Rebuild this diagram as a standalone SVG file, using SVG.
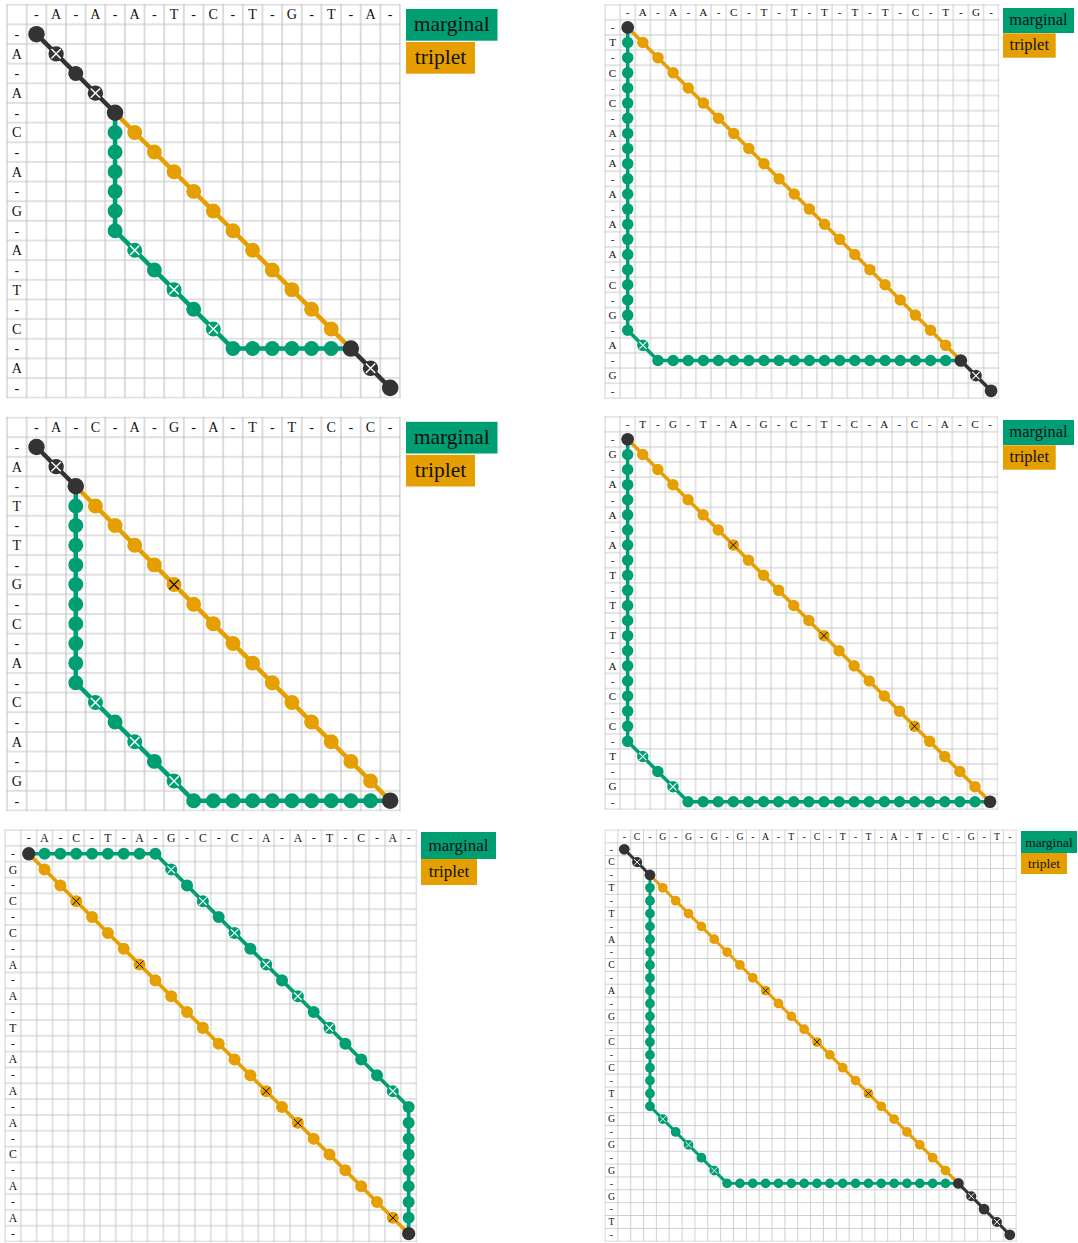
<svg xmlns="http://www.w3.org/2000/svg" xmlns:xlink="http://www.w3.org/1999/xlink" width="1078" height="1243" viewBox="0 0 1078 1243">
<style>
.lbl{font-family:"Liberation Serif","DejaVu Serif",serif;fill:#111;text-anchor:middle}
.leg{font-family:"Liberation Serif","DejaVu Serif",serif;fill:#111;text-anchor:middle}
.cn{fill:none;stroke-width:2.3;stroke-linecap:round;stroke-linejoin:round}
.cg{stroke:#009E73}.co{stroke:#E69F00}.ck{stroke:#333}
.lg{fill:#009E73}.lo{fill:#E69F00}
</style>
<defs>
<pattern id="grid" patternUnits="userSpaceOnUse" x="-5" y="-5" width="10" height="10"><path d="M0 5H10M5 0V10" stroke="#c4c4c4" stroke-width="0.6" fill="none"/></pattern>
<g id="dk"><circle r="4.2" fill="#333"/></g>
<g id="dks"><circle r="3.8" fill="#333"/></g>
<g id="dkx"><circle r="3.9" fill="#333"/><path d="M-2.4-2.4L2.4 2.4M-2.4 2.4L2.4-2.4" stroke="#fff" stroke-width="0.7"/></g>
<g id="dg"><circle r="3.8" fill="#009E73"/></g>
<g id="dgx"><circle r="3.8" fill="#009E73"/><path d="M-2.4-2.4L2.4 2.4M-2.4 2.4L2.4-2.4" stroke="#fff" stroke-width="0.7"/></g>
<g id="do"><circle r="3.8" fill="#E69F00"/></g>
<g id="dox"><circle r="3.8" fill="#E69F00"/><path d="M-2.4-2.4L2.4 2.4M-2.4 2.4L2.4-2.4" stroke="#000" stroke-width="0.6"/></g>
</defs>
<rect width="1078" height="1243" fill="#fff"/>

<!-- Panel 1 -->
<g id="panel1" transform="translate(7,4.7) scale(1.965)">
<rect x="-0.4" y="-0.4" width="200.8" height="200.8" fill="url(#grid)"/>
<text class="lbl" font-size="7.2" x="15 25 35 45 55 65 75 85 95 105 115 125 135 145 155 165 175 185 195 205 215 225 235 245 255 265 275 285 295 305 315" y="7.5">-A-A-A-T-C-T-G-T-A-</text>
<text class="lbl" font-size="7.2" x="5 5 5 5 5 5 5 5 5 5 5 5 5 5 5 5 5 5 5 5 5 5 5 5 5 5 5 5 5 5 5" y="17.5 27.5 37.5 47.5 57.5 67.5 77.5 87.5 97.5 107.5 117.5 127.5 137.5 147.5 157.5 167.5 177.5 187.5 197.5 207.5 217.5 227.5 237.5 247.5 257.5 267.5 277.5 287.5 297.5 307.5 317.5">-A-A-C-A-G-A-T-C-A-</text>
<g id="p1-connectors">
<polyline class="cn ck" points="15,15 55,55"/>
<polyline class="cn cg" points="55,55 55,115 115,175 175,175"/>
<polyline class="cn co" points="55,55 175,175"/>
<polyline class="cn ck" points="175,175 195,195"/>
</g>
<g id="a6"><use href="#dg" x="55" y="65"/></g>
<g id="a7"><use href="#dg" x="55" y="75"/></g>
<g id="a8"><use href="#dg" x="55" y="85"/></g>
<g id="a9"><use href="#dg" x="55" y="95"/></g>
<g id="a10"><use href="#dg" x="55" y="105"/></g>
<g id="a11"><use href="#dg" x="55" y="115"/></g>
<g id="a12"><use href="#dgx" x="65" y="125"/></g>
<g id="a13"><use href="#dg" x="75" y="135"/></g>
<g id="a14"><use href="#dgx" x="85" y="145"/></g>
<g id="a15"><use href="#dg" x="95" y="155"/></g>
<g id="a16"><use href="#dgx" x="105" y="165"/></g>
<g id="a17"><use href="#dg" x="115" y="175"/></g>
<g id="a18"><use href="#dg" x="125" y="175"/></g>
<g id="a19"><use href="#dg" x="135" y="175"/></g>
<g id="a20"><use href="#dg" x="145" y="175"/></g>
<g id="a21"><use href="#dg" x="155" y="175"/></g>
<g id="a22"><use href="#dg" x="165" y="175"/></g>
<g id="a23"><use href="#do" x="65" y="65"/></g>
<g id="a24"><use href="#do" x="75" y="75"/></g>
<g id="a25"><use href="#do" x="85" y="85"/></g>
<g id="a26"><use href="#do" x="95" y="95"/></g>
<g id="a27"><use href="#do" x="105" y="105"/></g>
<g id="a28"><use href="#do" x="115" y="115"/></g>
<g id="a29"><use href="#do" x="125" y="125"/></g>
<g id="a30"><use href="#do" x="135" y="135"/></g>
<g id="a31"><use href="#do" x="145" y="145"/></g>
<g id="a32"><use href="#do" x="155" y="155"/></g>
<g id="a33"><use href="#do" x="165" y="165"/></g>
<g id="a1"><use href="#dk" x="15" y="15"/></g>
<g id="a2"><use href="#dkx" x="25" y="25"/></g>
<g id="a3"><use href="#dks" x="35" y="35"/></g>
<g id="a4"><use href="#dkx" x="45" y="45"/></g>
<g id="a5"><use href="#dk" x="55" y="55"/></g>
<g id="a34"><use href="#dk" x="175" y="175"/></g>
<g id="a35"><use href="#dkx" x="185" y="185"/></g>
<g id="a36"><use href="#dk" x="195" y="195"/></g>
</g>
<g id="legend1">
<rect class="lg" x="406" y="9" width="91.5" height="31.7"/>
<text class="leg" x="451.7" y="31" font-size="21.5">marginal</text>
<rect class="lo" x="406" y="42" width="69" height="31.7"/>
<text class="leg" x="440.5" y="64" font-size="21.5">triplet</text>
</g>

<!-- Panel 2 -->
<g id="panel2" transform="translate(605,4.7) scale(1.514)">
<rect x="-0.4" y="-0.4" width="260.8" height="260.8" fill="url(#grid)"/>
<text class="lbl" font-size="7.4" x="15 25 35 45 55 65 75 85 95 105 115 125 135 145 155 165 175 185 195 205 215 225 235 245 255 265 275 285 295 305 315" y="7.5">-A-A-A-C-T-T-T-T-T-C-T-G-</text>
<text class="lbl" font-size="7.4" x="5 5 5 5 5 5 5 5 5 5 5 5 5 5 5 5 5 5 5 5 5 5 5 5 5 5 5 5 5 5 5" y="17.5 27.5 37.5 47.5 57.5 67.5 77.5 87.5 97.5 107.5 117.5 127.5 137.5 147.5 157.5 167.5 177.5 187.5 197.5 207.5 217.5 227.5 237.5 247.5 257.5 267.5 277.5 287.5 297.5 307.5 317.5">-T-C-C-A-A-A-A-A-C-G-A-G-</text>
<g id="p2-connectors">
<polyline class="cn cg" points="15,15 15,215 35,235 235,235"/>
<polyline class="cn co" points="15,15 235,235"/>
<polyline class="cn ck" points="235,235 255,255"/>
</g>
<g id="b2"><use href="#dg" x="15" y="25"/></g>
<g id="b3"><use href="#dg" x="15" y="35"/></g>
<g id="b4"><use href="#dg" x="15" y="45"/></g>
<g id="b5"><use href="#dg" x="15" y="55"/></g>
<g id="b6"><use href="#dg" x="15" y="65"/></g>
<g id="b7"><use href="#dg" x="15" y="75"/></g>
<g id="b8"><use href="#dg" x="15" y="85"/></g>
<g id="b9"><use href="#dg" x="15" y="95"/></g>
<g id="b10"><use href="#dg" x="15" y="105"/></g>
<g id="b11"><use href="#dg" x="15" y="115"/></g>
<g id="b12"><use href="#dg" x="15" y="125"/></g>
<g id="b13"><use href="#dg" x="15" y="135"/></g>
<g id="b14"><use href="#dg" x="15" y="145"/></g>
<g id="b15"><use href="#dg" x="15" y="155"/></g>
<g id="b16"><use href="#dg" x="15" y="165"/></g>
<g id="b17"><use href="#dg" x="15" y="175"/></g>
<g id="b18"><use href="#dg" x="15" y="185"/></g>
<g id="b19"><use href="#dg" x="15" y="195"/></g>
<g id="b20"><use href="#dg" x="15" y="205"/></g>
<g id="b21"><use href="#dg" x="15" y="215"/></g>
<g id="b22"><use href="#dgx" x="25" y="225"/></g>
<g id="b23"><use href="#dg" x="35" y="235"/></g>
<g id="b24"><use href="#dg" x="45" y="235"/></g>
<g id="b25"><use href="#dg" x="55" y="235"/></g>
<g id="b26"><use href="#dg" x="65" y="235"/></g>
<g id="b27"><use href="#dg" x="75" y="235"/></g>
<g id="b28"><use href="#dg" x="85" y="235"/></g>
<g id="b29"><use href="#dg" x="95" y="235"/></g>
<g id="b30"><use href="#dg" x="105" y="235"/></g>
<g id="b31"><use href="#dg" x="115" y="235"/></g>
<g id="b32"><use href="#dg" x="125" y="235"/></g>
<g id="b33"><use href="#dg" x="135" y="235"/></g>
<g id="b34"><use href="#dg" x="145" y="235"/></g>
<g id="b35"><use href="#dg" x="155" y="235"/></g>
<g id="b36"><use href="#dg" x="165" y="235"/></g>
<g id="b37"><use href="#dg" x="175" y="235"/></g>
<g id="b38"><use href="#dg" x="185" y="235"/></g>
<g id="b39"><use href="#dg" x="195" y="235"/></g>
<g id="b40"><use href="#dg" x="205" y="235"/></g>
<g id="b41"><use href="#dg" x="215" y="235"/></g>
<g id="b42"><use href="#dg" x="225" y="235"/></g>
<g id="b43"><use href="#do" x="25" y="25"/></g>
<g id="b44"><use href="#do" x="35" y="35"/></g>
<g id="b45"><use href="#do" x="45" y="45"/></g>
<g id="b46"><use href="#do" x="55" y="55"/></g>
<g id="b47"><use href="#do" x="65" y="65"/></g>
<g id="b48"><use href="#do" x="75" y="75"/></g>
<g id="b49"><use href="#do" x="85" y="85"/></g>
<g id="b50"><use href="#do" x="95" y="95"/></g>
<g id="b51"><use href="#do" x="105" y="105"/></g>
<g id="b52"><use href="#do" x="115" y="115"/></g>
<g id="b53"><use href="#do" x="125" y="125"/></g>
<g id="b54"><use href="#do" x="135" y="135"/></g>
<g id="b55"><use href="#do" x="145" y="145"/></g>
<g id="b56"><use href="#do" x="155" y="155"/></g>
<g id="b57"><use href="#do" x="165" y="165"/></g>
<g id="b58"><use href="#do" x="175" y="175"/></g>
<g id="b59"><use href="#do" x="185" y="185"/></g>
<g id="b60"><use href="#do" x="195" y="195"/></g>
<g id="b61"><use href="#do" x="205" y="205"/></g>
<g id="b62"><use href="#do" x="215" y="215"/></g>
<g id="b63"><use href="#do" x="225" y="225"/></g>
<g id="b1"><use href="#dk" x="15" y="15"/></g>
<g id="b64"><use href="#dk" x="235" y="235"/></g>
<g id="b65"><use href="#dkx" x="245" y="245"/></g>
<g id="b66"><use href="#dk" x="255" y="255"/></g>
</g>
<g id="legend2">
<rect class="lg" x="1003" y="8" width="71" height="25"/>
<text class="leg" x="1038.5" y="25" font-size="16.5">marginal</text>
<rect class="lo" x="1003" y="33.3" width="52.7" height="24.4"/>
<text class="leg" x="1029.3" y="49.5" font-size="16.5">triplet</text>
</g>

<!-- Panel 3 -->
<g id="panel3" transform="translate(7,417.5) scale(1.965)">
<rect x="-0.4" y="-0.4" width="200.8" height="200.8" fill="url(#grid)"/>
<text class="lbl" font-size="7.2" x="15 25 35 45 55 65 75 85 95 105 115 125 135 145 155 165 175 185 195 205 215 225 235 245 255 265 275 285 295 305 315" y="7.5">-A-C-A-G-A-T-T-C-C-</text>
<text class="lbl" font-size="7.2" x="5 5 5 5 5 5 5 5 5 5 5 5 5 5 5 5 5 5 5 5 5 5 5 5 5 5 5 5 5 5 5" y="17.5 27.5 37.5 47.5 57.5 67.5 77.5 87.5 97.5 107.5 117.5 127.5 137.5 147.5 157.5 167.5 177.5 187.5 197.5 207.5 217.5 227.5 237.5 247.5 257.5 267.5 277.5 287.5 297.5 307.5 317.5">-A-T-T-G-C-A-C-A-G-</text>
<g id="p3-connectors">
<polyline class="cn ck" points="15,15 35,35"/>
<polyline class="cn cg" points="35,35 35,135 95,195 195,195"/>
<polyline class="cn co" points="35,35 195,195"/>
</g>
<g id="c4"><use href="#dg" x="35" y="45"/></g>
<g id="c5"><use href="#dg" x="35" y="55"/></g>
<g id="c6"><use href="#dg" x="35" y="65"/></g>
<g id="c7"><use href="#dg" x="35" y="75"/></g>
<g id="c8"><use href="#dg" x="35" y="85"/></g>
<g id="c9"><use href="#dg" x="35" y="95"/></g>
<g id="c10"><use href="#dg" x="35" y="105"/></g>
<g id="c11"><use href="#dg" x="35" y="115"/></g>
<g id="c12"><use href="#dg" x="35" y="125"/></g>
<g id="c13"><use href="#dg" x="35" y="135"/></g>
<g id="c14"><use href="#dgx" x="45" y="145"/></g>
<g id="c15"><use href="#dg" x="55" y="155"/></g>
<g id="c16"><use href="#dgx" x="65" y="165"/></g>
<g id="c17"><use href="#dg" x="75" y="175"/></g>
<g id="c18"><use href="#dgx" x="85" y="185"/></g>
<g id="c19"><use href="#dg" x="95" y="195"/></g>
<g id="c20"><use href="#dg" x="105" y="195"/></g>
<g id="c21"><use href="#dg" x="115" y="195"/></g>
<g id="c22"><use href="#dg" x="125" y="195"/></g>
<g id="c23"><use href="#dg" x="135" y="195"/></g>
<g id="c24"><use href="#dg" x="145" y="195"/></g>
<g id="c25"><use href="#dg" x="155" y="195"/></g>
<g id="c26"><use href="#dg" x="165" y="195"/></g>
<g id="c27"><use href="#dg" x="175" y="195"/></g>
<g id="c28"><use href="#dg" x="185" y="195"/></g>
<g id="c29"><use href="#do" x="45" y="45"/></g>
<g id="c30"><use href="#do" x="55" y="55"/></g>
<g id="c31"><use href="#do" x="65" y="65"/></g>
<g id="c32"><use href="#do" x="75" y="75"/></g>
<g id="c33"><use href="#dox" x="85" y="85"/></g>
<g id="c34"><use href="#do" x="95" y="95"/></g>
<g id="c35"><use href="#do" x="105" y="105"/></g>
<g id="c36"><use href="#do" x="115" y="115"/></g>
<g id="c37"><use href="#do" x="125" y="125"/></g>
<g id="c38"><use href="#do" x="135" y="135"/></g>
<g id="c39"><use href="#do" x="145" y="145"/></g>
<g id="c40"><use href="#do" x="155" y="155"/></g>
<g id="c41"><use href="#do" x="165" y="165"/></g>
<g id="c42"><use href="#do" x="175" y="175"/></g>
<g id="c43"><use href="#do" x="185" y="185"/></g>
<g id="c1"><use href="#dk" x="15" y="15"/></g>
<g id="c2"><use href="#dkx" x="25" y="25"/></g>
<g id="c3"><use href="#dk" x="35" y="35"/></g>
<g id="c44"><use href="#dk" x="195" y="195"/></g>
</g>
<g id="legend3">
<rect class="lg" x="406" y="421.8" width="91.5" height="31.7"/>
<text class="leg" x="451.7" y="443.8" font-size="21.5">marginal</text>
<rect class="lo" x="406" y="454.8" width="69" height="31.7"/>
<text class="leg" x="440.5" y="476.8" font-size="21.5">triplet</text>
</g>

<!-- Panel 4 -->
<g id="panel4" transform="translate(605,416.7) scale(1.51)">
<rect x="-0.4" y="-0.4" width="260.8" height="260.8" fill="url(#grid)"/>
<text class="lbl" font-size="7.4" x="15 25 35 45 55 65 75 85 95 105 115 125 135 145 155 165 175 185 195 205 215 225 235 245 255 265 275 285 295 305 315" y="7.5">-T-G-T-A-G-C-T-C-A-C-A-C-</text>
<text class="lbl" font-size="7.4" x="5 5 5 5 5 5 5 5 5 5 5 5 5 5 5 5 5 5 5 5 5 5 5 5 5 5 5 5 5 5 5" y="17.5 27.5 37.5 47.5 57.5 67.5 77.5 87.5 97.5 107.5 117.5 127.5 137.5 147.5 157.5 167.5 177.5 187.5 197.5 207.5 217.5 227.5 237.5 247.5 257.5 267.5 277.5 287.5 297.5 307.5 317.5">-G-A-A-A-T-T-T-A-C-C-T-G-</text>
<g id="p4-connectors">
<polyline class="cn cg" points="15,15 15,215 55,255 255,255"/>
<polyline class="cn co" points="15,15 255,255"/>
</g>
<g id="d2"><use href="#dg" x="15" y="25"/></g>
<g id="d3"><use href="#dg" x="15" y="35"/></g>
<g id="d4"><use href="#dg" x="15" y="45"/></g>
<g id="d5"><use href="#dg" x="15" y="55"/></g>
<g id="d6"><use href="#dg" x="15" y="65"/></g>
<g id="d7"><use href="#dg" x="15" y="75"/></g>
<g id="d8"><use href="#dg" x="15" y="85"/></g>
<g id="d9"><use href="#dg" x="15" y="95"/></g>
<g id="d10"><use href="#dg" x="15" y="105"/></g>
<g id="d11"><use href="#dg" x="15" y="115"/></g>
<g id="d12"><use href="#dg" x="15" y="125"/></g>
<g id="d13"><use href="#dg" x="15" y="135"/></g>
<g id="d14"><use href="#dg" x="15" y="145"/></g>
<g id="d15"><use href="#dg" x="15" y="155"/></g>
<g id="d16"><use href="#dg" x="15" y="165"/></g>
<g id="d17"><use href="#dg" x="15" y="175"/></g>
<g id="d18"><use href="#dg" x="15" y="185"/></g>
<g id="d19"><use href="#dg" x="15" y="195"/></g>
<g id="d20"><use href="#dg" x="15" y="205"/></g>
<g id="d21"><use href="#dg" x="15" y="215"/></g>
<g id="d22"><use href="#dgx" x="25" y="225"/></g>
<g id="d23"><use href="#dg" x="35" y="235"/></g>
<g id="d24"><use href="#dgx" x="45" y="245"/></g>
<g id="d25"><use href="#dg" x="55" y="255"/></g>
<g id="d26"><use href="#dg" x="65" y="255"/></g>
<g id="d27"><use href="#dg" x="75" y="255"/></g>
<g id="d28"><use href="#dg" x="85" y="255"/></g>
<g id="d29"><use href="#dg" x="95" y="255"/></g>
<g id="d30"><use href="#dg" x="105" y="255"/></g>
<g id="d31"><use href="#dg" x="115" y="255"/></g>
<g id="d32"><use href="#dg" x="125" y="255"/></g>
<g id="d33"><use href="#dg" x="135" y="255"/></g>
<g id="d34"><use href="#dg" x="145" y="255"/></g>
<g id="d35"><use href="#dg" x="155" y="255"/></g>
<g id="d36"><use href="#dg" x="165" y="255"/></g>
<g id="d37"><use href="#dg" x="175" y="255"/></g>
<g id="d38"><use href="#dg" x="185" y="255"/></g>
<g id="d39"><use href="#dg" x="195" y="255"/></g>
<g id="d40"><use href="#dg" x="205" y="255"/></g>
<g id="d41"><use href="#dg" x="215" y="255"/></g>
<g id="d42"><use href="#dg" x="225" y="255"/></g>
<g id="d43"><use href="#dg" x="235" y="255"/></g>
<g id="d44"><use href="#dg" x="245" y="255"/></g>
<g id="d45"><use href="#do" x="25" y="25"/></g>
<g id="d46"><use href="#do" x="35" y="35"/></g>
<g id="d47"><use href="#do" x="45" y="45"/></g>
<g id="d48"><use href="#do" x="55" y="55"/></g>
<g id="d49"><use href="#do" x="65" y="65"/></g>
<g id="d50"><use href="#do" x="75" y="75"/></g>
<g id="d51"><use href="#dox" x="85" y="85"/></g>
<g id="d52"><use href="#do" x="95" y="95"/></g>
<g id="d53"><use href="#do" x="105" y="105"/></g>
<g id="d54"><use href="#do" x="115" y="115"/></g>
<g id="d55"><use href="#do" x="125" y="125"/></g>
<g id="d56"><use href="#do" x="135" y="135"/></g>
<g id="d57"><use href="#dox" x="145" y="145"/></g>
<g id="d58"><use href="#do" x="155" y="155"/></g>
<g id="d59"><use href="#do" x="165" y="165"/></g>
<g id="d60"><use href="#do" x="175" y="175"/></g>
<g id="d61"><use href="#do" x="185" y="185"/></g>
<g id="d62"><use href="#do" x="195" y="195"/></g>
<g id="d63"><use href="#dox" x="205" y="205"/></g>
<g id="d64"><use href="#do" x="215" y="215"/></g>
<g id="d65"><use href="#do" x="225" y="225"/></g>
<g id="d66"><use href="#do" x="235" y="235"/></g>
<g id="d67"><use href="#do" x="245" y="245"/></g>
<g id="d1"><use href="#dk" x="15" y="15"/></g>
<g id="d68"><use href="#dk" x="255" y="255"/></g>
</g>
<g id="legend4">
<rect class="lg" x="1003" y="420" width="71" height="25"/>
<text class="leg" x="1038.5" y="437" font-size="16.5">marginal</text>
<rect class="lo" x="1003" y="445.3" width="52.7" height="24.4"/>
<text class="leg" x="1029.3" y="461.5" font-size="16.5">triplet</text>
</g>

<!-- Panel 5 -->
<g id="panel5" transform="translate(5,830) scale(1.583)">
<rect x="-0.4" y="-0.4" width="260.8" height="260.8" fill="url(#grid)"/>
<text class="lbl" font-size="7.4" x="15 25 35 45 55 65 75 85 95 105 115 125 135 145 155 165 175 185 195 205 215 225 235 245 255 265 275 285 295 305 315" y="7.5">-A-C-T-A-G-C-C-A-A-T-C-A-</text>
<text class="lbl" font-size="7.4" x="5 5 5 5 5 5 5 5 5 5 5 5 5 5 5 5 5 5 5 5 5 5 5 5 5 5 5 5 5 5 5" y="17.5 27.5 37.5 47.5 57.5 67.5 77.5 87.5 97.5 107.5 117.5 127.5 137.5 147.5 157.5 167.5 177.5 187.5 197.5 207.5 217.5 227.5 237.5 247.5 257.5 267.5 277.5 287.5 297.5 307.5 317.5">-G-C-C-A-A-T-A-A-A-C-A-A-</text>
<g id="p5-connectors">
<polyline class="cn cg" points="15,15 95,15 255,175 255,255"/>
<polyline class="cn co" points="15,15 255,255"/>
</g>
<g id="e2"><use href="#dg" x="25" y="15"/></g>
<g id="e3"><use href="#dg" x="35" y="15"/></g>
<g id="e4"><use href="#dg" x="45" y="15"/></g>
<g id="e5"><use href="#dg" x="55" y="15"/></g>
<g id="e6"><use href="#dg" x="65" y="15"/></g>
<g id="e7"><use href="#dg" x="75" y="15"/></g>
<g id="e8"><use href="#dg" x="85" y="15"/></g>
<g id="e9"><use href="#dg" x="95" y="15"/></g>
<g id="e10"><use href="#dgx" x="105" y="25"/></g>
<g id="e11"><use href="#dg" x="115" y="35"/></g>
<g id="e12"><use href="#dgx" x="125" y="45"/></g>
<g id="e13"><use href="#dg" x="135" y="55"/></g>
<g id="e14"><use href="#dgx" x="145" y="65"/></g>
<g id="e15"><use href="#dg" x="155" y="75"/></g>
<g id="e16"><use href="#dgx" x="165" y="85"/></g>
<g id="e17"><use href="#dg" x="175" y="95"/></g>
<g id="e18"><use href="#dgx" x="185" y="105"/></g>
<g id="e19"><use href="#dg" x="195" y="115"/></g>
<g id="e20"><use href="#dgx" x="205" y="125"/></g>
<g id="e21"><use href="#dg" x="215" y="135"/></g>
<g id="e22"><use href="#dg" x="225" y="145"/></g>
<g id="e23"><use href="#dg" x="235" y="155"/></g>
<g id="e24"><use href="#dgx" x="245" y="165"/></g>
<g id="e25"><use href="#dg" x="255" y="175"/></g>
<g id="e26"><use href="#dg" x="255" y="185"/></g>
<g id="e27"><use href="#dg" x="255" y="195"/></g>
<g id="e28"><use href="#dg" x="255" y="205"/></g>
<g id="e29"><use href="#dg" x="255" y="215"/></g>
<g id="e30"><use href="#dg" x="255" y="225"/></g>
<g id="e31"><use href="#dg" x="255" y="235"/></g>
<g id="e32"><use href="#dg" x="255" y="245"/></g>
<g id="e33"><use href="#do" x="25" y="25"/></g>
<g id="e34"><use href="#do" x="35" y="35"/></g>
<g id="e35"><use href="#dox" x="45" y="45"/></g>
<g id="e36"><use href="#do" x="55" y="55"/></g>
<g id="e37"><use href="#do" x="65" y="65"/></g>
<g id="e38"><use href="#do" x="75" y="75"/></g>
<g id="e39"><use href="#dox" x="85" y="85"/></g>
<g id="e40"><use href="#do" x="95" y="95"/></g>
<g id="e41"><use href="#do" x="105" y="105"/></g>
<g id="e42"><use href="#do" x="115" y="115"/></g>
<g id="e43"><use href="#do" x="125" y="125"/></g>
<g id="e44"><use href="#do" x="135" y="135"/></g>
<g id="e45"><use href="#do" x="145" y="145"/></g>
<g id="e46"><use href="#do" x="155" y="155"/></g>
<g id="e47"><use href="#dox" x="165" y="165"/></g>
<g id="e48"><use href="#do" x="175" y="175"/></g>
<g id="e49"><use href="#dox" x="185" y="185"/></g>
<g id="e50"><use href="#do" x="195" y="195"/></g>
<g id="e51"><use href="#do" x="205" y="205"/></g>
<g id="e52"><use href="#do" x="215" y="215"/></g>
<g id="e53"><use href="#do" x="225" y="225"/></g>
<g id="e54"><use href="#do" x="235" y="235"/></g>
<g id="e55"><use href="#dox" x="245" y="245"/></g>
<g id="e1"><use href="#dk" x="15" y="15"/></g>
<g id="e56"><use href="#dk" x="255" y="255"/></g>
</g>
<g id="legend5">
<rect class="lg" x="421" y="832" width="75" height="27"/>
<text class="leg" x="458.5" y="851" font-size="17">marginal</text>
<rect class="lo" x="421" y="859" width="56" height="26"/>
<text class="leg" x="449" y="877" font-size="17">triplet</text>
</g>

<!-- Panel 6 -->
<g id="panel6" transform="translate(605,830) scale(1.285)">
<rect x="-0.4" y="-0.4" width="320.8" height="320.8" fill="url(#grid)"/>
<text class="lbl" font-size="7.6" x="15 25 35 45 55 65 75 85 95 105 115 125 135 145 155 165 175 185 195 205 215 225 235 245 255 265 275 285 295 305 315" y="7.6">-C-G-G-G-G-A-T-C-T-T-A-T-C-G-T-</text>
<text class="lbl" font-size="7.6" x="5 5 5 5 5 5 5 5 5 5 5 5 5 5 5 5 5 5 5 5 5 5 5 5 5 5 5 5 5 5 5" y="17.6 27.6 37.6 47.6 57.6 67.6 77.6 87.6 97.6 107.6 117.6 127.6 137.6 147.6 157.6 167.6 177.6 187.6 197.6 207.6 217.6 227.6 237.6 247.6 257.6 267.6 277.6 287.6 297.6 307.6 317.6">-C-T-T-A-C-A-G-C-C-T-G-G-G-G-T-</text>
<g id="p6-connectors">
<polyline class="cn ck" points="15,15 35,35"/>
<polyline class="cn cg" points="35,35 35,215 95,275 275,275"/>
<polyline class="cn co" points="35,35 275,275"/>
<polyline class="cn ck" points="275,275 315,315"/>
</g>
<g id="f4"><use href="#dg" x="35" y="45"/></g>
<g id="f5"><use href="#dg" x="35" y="55"/></g>
<g id="f6"><use href="#dg" x="35" y="65"/></g>
<g id="f7"><use href="#dg" x="35" y="75"/></g>
<g id="f8"><use href="#dg" x="35" y="85"/></g>
<g id="f9"><use href="#dg" x="35" y="95"/></g>
<g id="f10"><use href="#dg" x="35" y="105"/></g>
<g id="f11"><use href="#dg" x="35" y="115"/></g>
<g id="f12"><use href="#dg" x="35" y="125"/></g>
<g id="f13"><use href="#dg" x="35" y="135"/></g>
<g id="f14"><use href="#dg" x="35" y="145"/></g>
<g id="f15"><use href="#dg" x="35" y="155"/></g>
<g id="f16"><use href="#dg" x="35" y="165"/></g>
<g id="f17"><use href="#dg" x="35" y="175"/></g>
<g id="f18"><use href="#dg" x="35" y="185"/></g>
<g id="f19"><use href="#dg" x="35" y="195"/></g>
<g id="f20"><use href="#dg" x="35" y="205"/></g>
<g id="f21"><use href="#dg" x="35" y="215"/></g>
<g id="f22"><use href="#dgx" x="45" y="225"/></g>
<g id="f23"><use href="#dg" x="55" y="235"/></g>
<g id="f24"><use href="#dgx" x="65" y="245"/></g>
<g id="f25"><use href="#dg" x="75" y="255"/></g>
<g id="f26"><use href="#dgx" x="85" y="265"/></g>
<g id="f27"><use href="#dg" x="95" y="275"/></g>
<g id="f28"><use href="#dg" x="105" y="275"/></g>
<g id="f29"><use href="#dg" x="115" y="275"/></g>
<g id="f30"><use href="#dg" x="125" y="275"/></g>
<g id="f31"><use href="#dg" x="135" y="275"/></g>
<g id="f32"><use href="#dg" x="145" y="275"/></g>
<g id="f33"><use href="#dg" x="155" y="275"/></g>
<g id="f34"><use href="#dg" x="165" y="275"/></g>
<g id="f35"><use href="#dg" x="175" y="275"/></g>
<g id="f36"><use href="#dg" x="185" y="275"/></g>
<g id="f37"><use href="#dg" x="195" y="275"/></g>
<g id="f38"><use href="#dg" x="205" y="275"/></g>
<g id="f39"><use href="#dg" x="215" y="275"/></g>
<g id="f40"><use href="#dg" x="225" y="275"/></g>
<g id="f41"><use href="#dg" x="235" y="275"/></g>
<g id="f42"><use href="#dg" x="245" y="275"/></g>
<g id="f43"><use href="#dg" x="255" y="275"/></g>
<g id="f44"><use href="#dg" x="265" y="275"/></g>
<g id="f45"><use href="#do" x="45" y="45"/></g>
<g id="f46"><use href="#do" x="55" y="55"/></g>
<g id="f47"><use href="#do" x="65" y="65"/></g>
<g id="f48"><use href="#do" x="75" y="75"/></g>
<g id="f49"><use href="#do" x="85" y="85"/></g>
<g id="f50"><use href="#do" x="95" y="95"/></g>
<g id="f51"><use href="#do" x="105" y="105"/></g>
<g id="f52"><use href="#do" x="115" y="115"/></g>
<g id="f53"><use href="#dox" x="125" y="125"/></g>
<g id="f54"><use href="#do" x="135" y="135"/></g>
<g id="f55"><use href="#do" x="145" y="145"/></g>
<g id="f56"><use href="#do" x="155" y="155"/></g>
<g id="f57"><use href="#dox" x="165" y="165"/></g>
<g id="f58"><use href="#do" x="175" y="175"/></g>
<g id="f59"><use href="#do" x="185" y="185"/></g>
<g id="f60"><use href="#do" x="195" y="195"/></g>
<g id="f61"><use href="#dox" x="205" y="205"/></g>
<g id="f62"><use href="#do" x="215" y="215"/></g>
<g id="f63"><use href="#do" x="225" y="225"/></g>
<g id="f64"><use href="#do" x="235" y="235"/></g>
<g id="f65"><use href="#do" x="245" y="245"/></g>
<g id="f66"><use href="#do" x="255" y="255"/></g>
<g id="f67"><use href="#do" x="265" y="265"/></g>
<g id="f1"><use href="#dk" x="15" y="15"/></g>
<g id="f2"><use href="#dkx" x="25" y="25"/></g>
<g id="f3"><use href="#dk" x="35" y="35"/></g>
<g id="f68"><use href="#dk" x="275" y="275"/></g>
<g id="f69"><use href="#dkx" x="285" y="285"/></g>
<g id="f70"><use href="#dk" x="295" y="295"/></g>
<g id="f71"><use href="#dkx" x="305" y="305"/></g>
<g id="f72"><use href="#dk" x="315" y="315"/></g>
</g>
<g id="legend6">
<rect class="lg" x="1021" y="831" width="56" height="22"/>
<text class="leg" x="1049" y="847" font-size="13.5">marginal</text>
<rect class="lo" x="1021" y="853" width="46" height="21"/>
<text class="leg" x="1044" y="868" font-size="13.5">triplet</text>
</g>
</svg>
